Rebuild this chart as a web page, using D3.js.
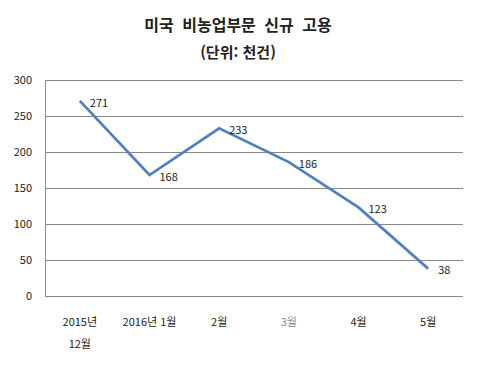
<!DOCTYPE html>
<html lang="ko">
<head>
<meta charset="utf-8">
<title>미국 비농업부문 신규 고용</title>
<style>
  body { margin: 0; background: #fff; }
  text { font-family: "Noto Sans CJK KR", "Noto Sans", sans-serif; }
</style>
</head>
<body>
<svg id="chart" width="477" height="369"></svg>
<script src="https://d3js.org/d3.v7.min.js"></script>
<script>
const categories = ["2015년\n12월", "2016년 1월", "2월", "3월", "4월", "5월"];
const values = [271, 168, 233, 186, 123, 38];
const yTicks = [0, 50, 100, 150, 200, 250, 300];
const titleLines = ["미국 비농업부문 신규 고용", "(단위: 천건)"];

const svg = d3.select("#chart");
const margin = {left: 45, top: 80, right: 14, bottom: 73};
const W = 477, H = 369;

const x = d3.scaleBand()
  .domain(categories)
  .range([margin.left, W - margin.right]);
const y = d3.scaleLinear()
  .domain([0, 300])
  .range([H - margin.bottom, margin.top]);

// title
svg.selectAll("text.title")
  .data(titleLines)
  .join("text")
  .attr("class", "title")
  .attr("x", 238)
  .attr("y", (d, i) => 31 + i * 27)
  .attr("text-anchor", "middle")
  .attr("font-size", (d, i) => i === 0 ? 16 : 15)
  .attr("word-spacing", (d, i) => i === 0 ? 4 : 0)
  .attr("font-weight", "bold")
  .attr("fill", "#222")
  .text(d => d);

// grid lines
svg.append("g")
  .selectAll("line")
  .data(yTicks)
  .join("line")
  .attr("x1", margin.left)
  .attr("x2", W - margin.right)
  .attr("y1", d => Math.round(y(d)) + 0.5)
  .attr("y2", d => Math.round(y(d)) + 0.5)
  .attr("stroke", "#888")
  .attr("stroke-width", 1);

// y tick labels
svg.append("g")
  .selectAll("text")
  .data(yTicks)
  .join("text")
  .attr("x", 32)
  .attr("y", d => y(d))
  .attr("dy", "0.35em")
  .attr("text-anchor", "end")
  .attr("font-size", 11)
  .attr("fill", "#222")
  .text(d => d);

// left axis line
svg.append("line")
  .attr("x1", margin.left + 0.5)
  .attr("x2", margin.left + 0.5)
  .attr("y1", y(300))
  .attr("y2", y(0))
  .attr("stroke", "#888");

// x labels
const xl = svg.append("g")
  .selectAll("text")
  .data(categories)
  .join("text")
  .attr("x", d => x(d) + x.bandwidth() / 2)
  .attr("y", 326)
  .attr("text-anchor", "middle")
  .attr("font-size", 11)
  .attr("fill", d => d === "3월" ? "#888" : "#222");
xl.selectAll("tspan")
  .data(d => d.split("\n").map(s => ({s, c: d})))
  .join("tspan")
  .attr("x", d => x(d.c) + x.bandwidth() / 2)
  .attr("dy", (d, i) => i === 0 ? 0 : 22)
  .text(d => d.s);

// line
const pts = categories.map((c, i) => [x(c) + x.bandwidth() / 2, y(values[i])]);
svg.append("path")
  .datum(pts)
  .attr("d", d3.line())
  .attr("fill", "none")
  .attr("stroke", "#4F81BD")
  .attr("stroke-width", 2.75);

// data labels
svg.append("g")
  .selectAll("text")
  .data(values)
  .join("text")
  .attr("x", (d, i) => pts[i][0] + 10)
  .attr("y", (d, i) => pts[i][1] + 2)
  .attr("dy", "0.35em")
  .attr("font-size", 11)
  .attr("fill", "#222")
  .text(d => d);
</script>
</body>
</html>
